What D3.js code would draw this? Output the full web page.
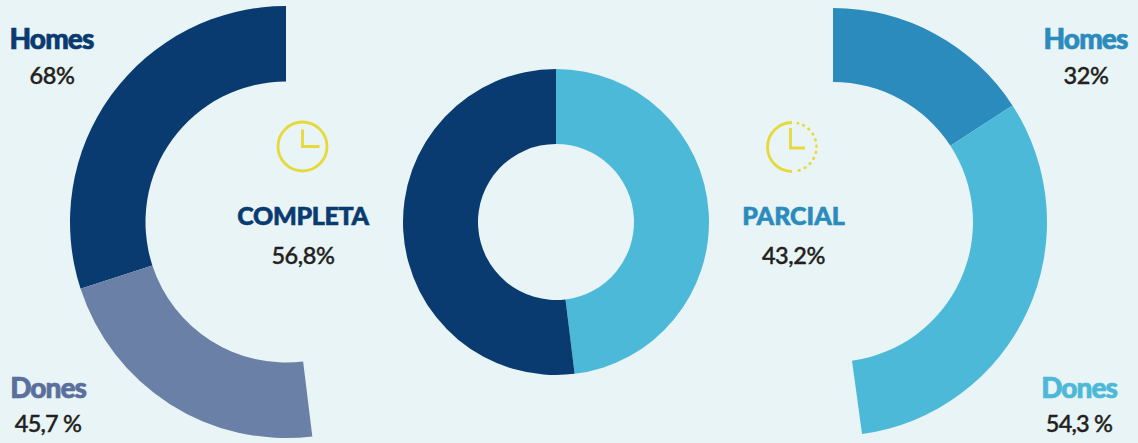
<!DOCTYPE html>
<html><head><meta charset="utf-8">
<script src="https://cdn.jsdelivr.net/npm/d3@7"></script>
<style>html,body{margin:0;padding:0;background:#e8f4f5}svg{display:block}text{font-family:Lato,sans-serif}</style>
</head><body><svg id="c" width="1138" height="443"></svg>
<script>
// Drawn sweep of every segment, in degrees
const centerSegments = [173, 187];
const leftSegments = [108, 79];
const rightSegments = [57, 115.2];
const centerColors = ["#4db9d8", "#0a3b70"];
const leftColors = ["#0a3b70", "#6a80a6"];
const rightColors = ["#2b8bbd", "#4db9d8"];
const labels = [
  {t:"Homes",x:51.5,y:49,c:"#0a3b70",s:28,w:900,ls:-.9,o:.7},
  {t:"68%",x:52,y:84,c:"#231f20",s:23.5,w:500,ls:-.4,o:.4},
  {t:"Dones",x:48,y:398,c:"#5b6f9c",s:28,w:900,ls:-1,o:.7},
  {t:"45,7 %",x:48,y:432,c:"#231f20",s:23.5,w:500,ls:-.8,o:.4},
  {t:"COMPLETA",x:303,y:225,c:"#0a3b70",s:25,w:900,ls:-.3,o:.6},
  {t:"56,8%",x:303,y:264,c:"#231f20",s:23.5,w:500,ls:-.4,o:.4},
  {t:"PARCIAL",x:793.5,y:225,c:"#2b8bbd",s:25,w:900,ls:0,o:.6},
  {t:"43,2%",x:793.5,y:264,c:"#231f20",s:23.5,w:500,ls:-.4,o:.4},
  {t:"Homes",x:1085.5,y:49,c:"#2b8bbd",s:28,w:900,ls:-.9,o:.7},
  {t:"32%",x:1086,y:84,c:"#231f20",s:23.5,w:500,ls:-.4,o:.4},
  {t:"Dones",x:1079,y:398,c:"#4db9d8",s:28,w:900,ls:-1,o:.7},
  {t:"54,3 %",x:1079,y:432,c:"#231f20",s:23.5,w:500,ls:-.8,o:.4}
];
const svg = d3.select("#c");
const rad = d => d * Math.PI / 180;
function ring(vals, cols, cx, cy, r0, r1, start, dir) {
  const total = d3.sum(vals);
  const pie = d3.pie().sort(null).startAngle(rad(start)).endAngle(rad(start + dir * total));
  const arc = d3.arc().innerRadius(r0).outerRadius(r1);
  svg.append("g").attr("transform", `translate(${cx},${cy})`)
    .selectAll("path").data(pie(vals)).join("path")
    .attr("d", arc).attr("fill", (d, i) => cols[i]);
}
ring(centerSegments, centerColors, 556, 222, 78, 153, 0, 1);
ring(leftSegments, leftColors, 286, 222, 140.5, 216, 0, -1);
ring(rightSegments, rightColors, 833, 222, 140, 214, 0, 1);

const Y = "#e6d93a";
const lc = svg.append("g").attr("transform","translate(302.5,146.5)").attr("fill","none").attr("stroke",Y);
lc.append("circle").attr("r",24.5).attr("stroke-width",2.8);
lc.append("path").attr("d",d3.line()([[0,-17],[0,0],[17,0]])).attr("stroke-width",2.8);
const rc = svg.append("g").attr("transform","translate(792,147)").attr("fill","none").attr("stroke",Y);
rc.append("path").attr("d",d3.arc().innerRadius(24.5).outerRadius(24.5)({startAngle:0,endAngle:-Math.PI})).attr("stroke-width",2.8);
rc.append("path").attr("d",d3.arc().innerRadius(24.5).outerRadius(24.5)({startAngle:rad(14),endAngle:rad(170)})).attr("stroke-width",2.8).attr("stroke-linecap","round").attr("stroke-dasharray","0 6.35");
rc.append("path").attr("d",d3.line()([[-1.5,-19],[-1.5,1],[13,1]])).attr("stroke-width",2.8);

svg.append("g").selectAll("text").data(labels).join("text")
  .attr("x",d=>d.x).attr("y",d=>d.y).attr("text-anchor","middle")
  .attr("fill",d=>d.c).attr("stroke",d=>d.c).attr("stroke-width",d=>d.o)
  .attr("font-size",d=>d.s).attr("font-weight",d=>d.w)
  .attr("letter-spacing",d=>d.ls).text(d=>d.t);
</script></body></html>
